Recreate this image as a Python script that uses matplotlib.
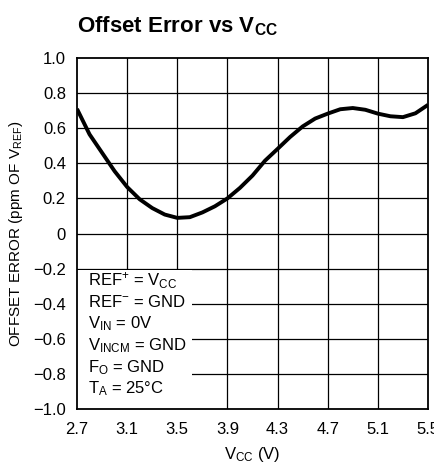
import matplotlib
matplotlib.use("Agg")
import matplotlib.pyplot as plt
from matplotlib.patches import Rectangle

plt.rcParams['font.family'] = ['Liberation Sans', 'DejaVu Sans']
plt.rcParams['mathtext.default'] = 'regular'

vcc = [2.7, 2.8, 2.9, 3.0, 3.1, 3.2, 3.3, 3.4, 3.5, 3.6, 3.7, 3.8, 3.9, 4.0, 4.1,
       4.2, 4.3, 4.4, 4.5, 4.6, 4.7, 4.8, 4.9, 5.0, 5.1, 5.2, 5.3, 5.4, 5.5]
offset_err = [0.71, 0.565, 0.46, 0.355, 0.265, 0.195, 0.145, 0.108, 0.089, 0.093,
              0.12, 0.155, 0.2, 0.26, 0.33, 0.415, 0.482, 0.55, 0.61, 0.655, 0.683,
              0.708, 0.715, 0.705, 0.683, 0.668, 0.663, 0.685, 0.733]
xticks = [2.7, 3.1, 3.5, 3.9, 4.3, 4.7, 5.1, 5.5]
yticks = [-1.0, -0.8, -0.6, -0.4, -0.2, 0, 0.2, 0.4, 0.6, 0.8, 1.0]
ytick_labels = ['\u22121.0', '\u22120.8', '\u22120.6', '\u22120.4', '\u22120.2', '0',
                '0.2', '0.4', '0.6', '0.8', '1.0']
notes = [r'$REF^{+}$ = $V_{CC}$', r'$REF^{-}$ = GND', r'$V_{IN}$ = 0V',
         r'$V_{INCM}$ = GND', r'$F_{O}$ = GND', r'$T_{A}$ = 25°C']

fig = plt.figure(figsize=(4.35, 4.66), dpi=100)
ax = fig.add_axes([77/435, 57/466, 351/435, 351/466])
ax.set_xlim(2.7, 5.5)
ax.set_ylim(-1.0, 1.0)

for x in xticks[1:-1]:
    ax.axvline(x, color='black', lw=0.9, zorder=1)
for y in yticks[1:-1]:
    ax.axhline(y, color='black', lw=0.9, zorder=1)
ax.add_patch(Rectangle((2.7, -1.0), 0.92, 0.79, facecolor='white', edgecolor='none', zorder=2))

ax.plot(vcc, offset_err, color='black', lw=2.8, zorder=3, solid_capstyle='butt',
        solid_joinstyle='round')

ax.set_xticks(xticks)
ax.set_xticklabels([f'{v:.1f}' for v in xticks])
ax.set_yticks(yticks)
ax.set_yticklabels(ytick_labels)
ax.tick_params(axis='y', length=0, labelsize=12, pad=8, colors='black')
ax.tick_params(axis='x', length=0, labelsize=12, pad=9, colors='black')
for s in ax.spines.values():
    s.set_linewidth(1.3)
    s.set_zorder(4)

ax.set_xlabel(r'$V_{CC}$ (V)', fontsize=12, labelpad=6)
ax.set_ylabel(r'OFFSET ERROR (ppm OF $V_{REF}$)', fontsize=11, labelpad=6)

for i, t in enumerate(notes):
    ax.text(2.79, -0.27 - i * 0.123, t, fontsize=12, va='center', ha='left', zorder=5)

fig.text(77/435, 1 - 26/466, r'Offset Error vs $V_{CC}$', fontsize=16, fontweight='bold',
         ha='left', va='center')

fig.savefig('out.png', dpi=100)
